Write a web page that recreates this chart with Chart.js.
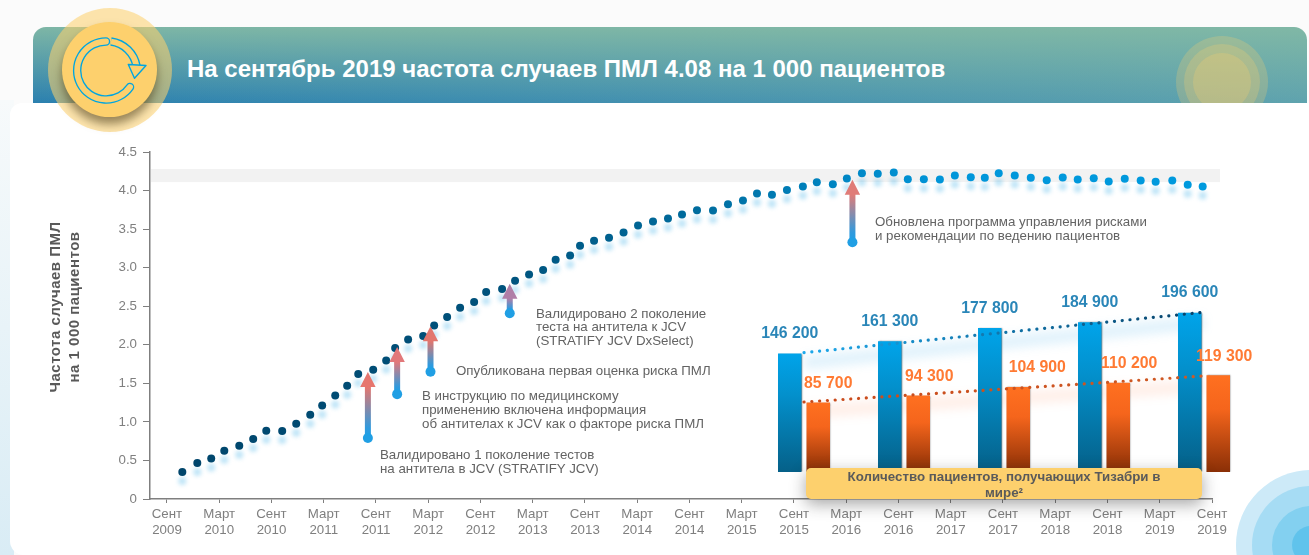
<!DOCTYPE html>
<html lang="ru">
<head>
<meta charset="utf-8">
<title>Частота случаев ПМЛ</title>
<script src="https://cdn.jsdelivr.net/npm/chart.js@4"></script>
<style>
html,body{margin:0;padding:0;width:1309px;height:555px;overflow:hidden;background:#fbfbfb;font-family:"Liberation Sans",Arial,sans-serif}
.abs{position:absolute}
#strip{left:0;top:100px;width:14px;height:455px;background:linear-gradient(to bottom,#f7fafb,#d9ecf5)}
#header{left:33px;top:27px;width:1273.5px;height:76px;border-radius:13px 13px 0 0;overflow:hidden;
background:linear-gradient(to bottom,rgba(130,185,165,.95) 0%,rgba(130,185,165,0) 100%),linear-gradient(to right,#2b80af 0%,#3c8cb0 35%,#5fa3ae 100%)}
.sunr{border-radius:50%;background:rgba(253,208,109,.24)}
#panel{left:10px;top:103px;width:1299px;height:452px;background:#fff;border-radius:12px 0 0 14px}
#corner{left:1200px;top:450px;width:109px;height:105px;overflow:hidden}
.cr{position:absolute;border-radius:50%}
#title{left:187px;top:55px;color:#fff;font-weight:700;font-size:24px;line-height:28px;white-space:nowrap;transform-origin:0 50%;}
#halo{left:47.7px;top:7.7px;width:124px;height:124px;border-radius:50%;background:rgba(253,208,109,.56)}
#sun{left:62px;top:22px;width:95px;height:95px;border-radius:50%;background:#fdd06d;box-shadow:0 7px 10px rgba(70,55,20,.55)}
#icon{left:0;top:0}
canvas{position:absolute;display:block}
#rate{left:0;top:0}
#patients{left:754px;top:280px}
.note{position:absolute;color:#636363;font-size:13.3px;line-height:13.8px;white-space:nowrap}
#ytitle{left:46px;top:307px;width:0;height:0}
#ytitle div{position:absolute;transform:translate(-50%,-50%) rotate(-90deg);white-space:nowrap;font-weight:700;font-size:15px;color:#595959;letter-spacing:.5px}
#box{left:806px;top:468px;width:396px;height:30px;padding-top:1px;background:#fdd06d;border-radius:5px;box-shadow:0 5px 16px rgba(40,40,40,.42);color:#5a5a5a;font-weight:700;font-size:13.3px;line-height:15.5px;text-align:center}
</style>
</head>
<body>
<div class="abs" id="strip"></div>
<div class="abs" id="header">
  <div class="abs sunr" style="left:1143px;top:9px;width:92px;height:92px"></div>
  <div class="abs sunr" style="left:1151px;top:17px;width:76px;height:76px"></div>
  <div class="abs sunr" style="left:1160px;top:26px;width:58px;height:58px"></div>
</div>
<div class="abs" id="panel"></div>
<div class="abs" id="corner">
  <div class="cr" style="left:36px;top:20px;width:150px;height:150px;background:#cdeaf8"></div>
  <div class="cr" style="left:52px;top:36px;width:118px;height:118px;background:#a6dcf4"></div>
  <div class="cr" style="left:72px;top:56px;width:78px;height:78px;background:#83d0f0"></div>
  <div class="cr" style="left:92px;top:76px;width:38px;height:38px;background:#60c3ec"></div>
</div>
<div class="abs" id="title">На сентябрь 2019 частота случаев ПМЛ 4.08 на 1 000 пациентов</div>
<canvas id="rate" width="1309" height="555"></canvas>
<canvas id="patients" width="510" height="192"></canvas>
<div class="abs" id="halo"></div>
<div class="abs" id="sun"></div>
<svg class="abs" id="icon" width="180" height="135" fill="none" stroke-linecap="round" stroke-linejoin="round">
  <path d="M130 87A29 29 0 1 1 106 41.5" stroke="#00a5e0" stroke-width="8.5"/>
  <path d="M130 87A29 29 0 1 1 106 41.5" stroke="#fdd06d" stroke-width="5.8"/>
  <path d="M111 41.5A30 30 0 0 1 136.5 66" stroke="#00a5e0" stroke-width="8.5" stroke-linecap="butt"/>
  <path d="M111 41.5A30 30 0 0 1 136.5 66" stroke="#fdd06d" stroke-width="5.8" stroke-linecap="butt"/>
  <path d="M128.3 64.5L146 65.5L134.5 78.3Z" stroke="#00a5e0" stroke-width="1.4" fill="#fdd06d"/>
</svg>
<div class="abs" id="ytitle"><div style="left:7.5px;top:0">Частота случаев ПМЛ</div><div style="left:27px;top:0">на 1 000 пациентов</div></div>
<div class="note" style="left:380px;top:448px">Валидировано 1 поколение тестов<br>на антитела в JCV (STRATIFY JCV)</div>
<div class="note" style="left:422px;top:389px">В инструкцию по медицинскому<br>применению включена информация<br>об антителах к JCV как о факторе риска ПМЛ</div>
<div class="note" style="left:456px;top:364px">Опубликована первая оценка риска ПМЛ</div>
<div class="note" style="left:536px;top:306.5px">Валидировано 2 поколение<br>теста на антитела к JCV<br>(STRATIFY JCV DxSelect)</div>
<div class="note" style="left:875px;top:215px">Обновлена программа управления рисками<br>и рекомендации по ведению пациентов</div>
<div class="abs" id="box">Количество пациентов, получающих Тизабри в<br>мире²</div>

<script>
/* months since September 2009 for every point of the rate series */
const monthsSinceStart = [1.76,3.48,5.08,6.58,8.30,9.90,11.40,13.23,14.84,16.45,17.82,19.32,20.69,21.96,23.68,25.17,26.20,27.69,29.42,30.68,32.17,33.66,35.27,36.65,38.48,39.97,41.58,43.19,44.63,46.29,47.43,49.04,50.76,52.43,54.09,55.81,57.53,59.14,60.86,62.70,64.42,66.14,67.75,69.47,71.19,73.02,74.62,76.46,78.07,79.80,81.62,83.46,85.07,86.91,88.75,90.47,92.30,93.91,95.51,97.35,99.19,101.02,102.86,104.58,106.42,108.14,109.98,111.81,113.53,115.44,117.21,118.93];
const pmlRate = [0.35,0.467,0.526,0.626,0.691,0.778,0.885,0.881,0.976,1.093,1.213,1.343,1.469,1.62,1.676,1.797,1.957,2.069,2.113,2.25,2.359,2.48,2.554,2.683,2.722,2.83,2.912,2.969,3.102,3.158,3.284,3.348,3.387,3.456,3.547,3.599,3.638,3.689,3.746,3.741,3.824,3.871,3.962,3.945,4.006,4.052,4.109,4.083,4.156,4.226,4.217,4.234,4.148,4.148,4.143,4.195,4.174,4.165,4.226,4.195,4.165,4.135,4.169,4.143,4.161,4.117,4.152,4.13,4.113,4.13,4.074,4.052];
const xTickLabels = [['Сент','2009'],['Март','2010'],['Сент','2010'],['Март','2011'],['Сент','2011'],['Март','2012'],['Сент','2012'],['Март','2013'],['Сент','2013'],['Март','2014'],['Сент','2014'],['Март','2015'],['Сент','2015'],['Март','2016'],['Сент','2016'],['Март','2017'],['Сент','2017'],['Март','2018'],['Сент','2018'],['Март','2019'],['Сент','2019']];
const yTickValues = [0,0.5,1,1.5,2,2.5,3,3.5,4,4.5];
const bandRange = [4.11,4.28];
/* arrows: [month, rate at dot, rate at tip] */
const arrowMonths = [23.07,26.43,30.26,39.36,78.71];
const arrowFrom = [0.79,1.36,1.65,2.41,3.33];
const arrowTo = [1.646,1.97,2.24,2.79,4.14];
const arrowTipColor = ['#e6766e','#e2787a','#e2766e','#b07fa8','#e07c78'];

const barCategories = ['Сент 2015','Сент 2016','Сент 2017','Сент 2018','Сент 2019'];
const treatedTotal = [146200,161300,177800,184900,196600];
const treatedSecond = [85700,94300,104900,110200,119300];
const trendTotal = [147300,null,null,null,197200];
const trendSecond = [86400,null,null,null,118500];
const labelShiftSecond = [10,11,19,11,6];

const FONT = '"Liberation Sans", Arial, sans-serif';
const GREY = '#7f7f7f';

const ratePlugin = {
  id: 'rateDecor',
  beforeDatasetsDraw(chart) {
    const {ctx, scales:{x, y}} = chart;
    ctx.save();
    ctx.fillStyle = '#f2f2f2';
    const top = y.getPixelForValue(bandRange[1]), bot = y.getPixelForValue(bandRange[0]);
    ctx.fillRect(151, top, 1069, bot - top);
    ctx.filter = 'blur(2px)';
    ctx.fillStyle = 'rgba(0,150,225,.26)';
    chart.getDatasetMeta(0).data.forEach(p => {
      ctx.beginPath(); ctx.arc(p.x, p.y + 9, 4, 0, Math.PI * 2); ctx.fill();
    });
    ctx.restore();
  },
  afterDatasetsDraw(chart) {
    const {ctx, scales:{x, y}} = chart;
    ctx.save();
    arrowMonths.forEach((m, i) => {
      const px = x.getPixelForValue(m), y0 = y.getPixelForValue(arrowFrom[i]), y1 = y.getPixelForValue(arrowTo[i]);
      const head = 15, half = 7.7, w = 3;
      const g = ctx.createLinearGradient(0, y0, 0, y1);
      g.addColorStop(0, '#1f9fe3');
      g.addColorStop(.15, '#2f9ade');
      g.addColorStop(Math.max(.3, 1 - head / (y0 - y1)), arrowTipColor[i]);
      g.addColorStop(1, arrowTipColor[i]);
      ctx.fillStyle = g;
      ctx.beginPath();
      ctx.moveTo(px, y1); ctx.lineTo(px + half, y1 + head); ctx.lineTo(px + w, y1 + head);
      ctx.lineTo(px + w, y0); ctx.lineTo(px - w, y0); ctx.lineTo(px - w, y1 + head);
      ctx.lineTo(px - half, y1 + head); ctx.closePath(); ctx.fill();
      ctx.fillStyle = '#209fe4';
      ctx.beginPath(); ctx.arc(px, y0, 5, 0, Math.PI * 2); ctx.fill();
    });
    ctx.restore();
  }
};

let dotGrad = null;
function dotColor(c) {
  const a = c.chart.chartArea;
  if (!a) return '#006a96';
  if (!dotGrad) {
    dotGrad = c.chart.ctx.createLinearGradient(180, 0, 1205, 0);
    dotGrad.addColorStop(0, '#00456b');
    dotGrad.addColorStop(.31, '#00527c');
    dotGrad.addColorStop(.51, '#006d9f');
    dotGrad.addColorStop(.65, '#0087c5');
    dotGrad.addColorStop(.75, '#0096da');
    dotGrad.addColorStop(1, '#009ade');
  }
  return dotGrad;
}

new Chart(document.getElementById('rate'), {
  type: 'scatter',
  data: { datasets: [{
    label: 'Частота случаев ПМЛ на 1 000 пациентов',
    data: monthsSinceStart.map((m, i) => ({x: m, y: pmlRate[i]})),
    showLine: false, pointRadius: 4, pointBorderWidth: 0,
    pointBackgroundColor: dotColor
  }]},
  options: {
    responsive: false, animation: false, devicePixelRatio: 1,
    layout: { padding: {left: 0, right: 97, top: 152, bottom: 0} },
    plugins: { legend: {display: false}, tooltip: {enabled: false} },
    scales: {
      x: {
        type: 'linear', min: -1.95, max: 120,
        afterBuildTicks: s => { s.ticks = xTickLabels.map((_, i) => ({value: i * 6})); },
        afterFit: s => { s.height = 56; },
        grid: {drawOnChartArea: false, tickLength: 4, color: GREY, lineWidth: 1},
        border: {color: GREY, width: 1.5},
        ticks: {
          autoSkip: false, maxRotation: 0, minRotation: 0, padding: 3, color: GREY,
          font: {family: FONT, size: 13.3, lineHeight: 1.2},
          callback: (v) => xTickLabels[Math.round(v / 6)]
        }
      },
      y: {
        type: 'linear', min: 0, max: 4.5,
        afterBuildTicks: s => { s.ticks = yTickValues.map(v => ({value: v})); },
        afterFit: s => { s.width = 150; },
        grid: {drawOnChartArea: false, tickLength: 7, color: GREY, lineWidth: 1},
        border: {color: GREY, width: 1.5},
        ticks: {
          padding: 6, color: GREY, font: {family: FONT, size: 13.3},
          callback: v => v === 0 ? '0' : v.toFixed(1)
        }
      }
    }
  },
  plugins: [ratePlugin]
});

const fmt = v => String(v).replace(/(\d)(?=(\d{3})$)/, '$1 ');

function barGrad(c, topColor, midColor, botColor) {
  const {chart, raw} = c;
  const s = chart.scales.y;
  if (!s || s.top === undefined || raw == null) return topColor;
  const g = chart.ctx.createLinearGradient(0, s.getPixelForValue(raw), 0, s.getPixelForValue(0));
  g.addColorStop(0, topColor); g.addColorStop(.35, midColor); g.addColorStop(1, botColor);
  return g;
}
function trendGrad(c, a, b) {
  const ar = c.chart.chartArea;
  if (!ar) return a;
  const g = c.chart.ctx.createLinearGradient(50, 0, 450, 0);
  g.addColorStop(0, a); g.addColorStop(1, b);
  return g;
}

const barPlugin = {
  id: 'barDecor',
  beforeDatasetsDraw(chart) {
    const {ctx} = chart;
    ctx.save();
    ctx.filter = 'blur(5px)';
    [[2, 'rgba(40,160,230,.13)'], [3, 'rgba(255,110,50,.10)']].forEach(([i, col]) => {
      const pts = chart.getDatasetMeta(i).data;
      ctx.strokeStyle = col; ctx.lineWidth = 14;
      ctx.beginPath(); ctx.moveTo(pts[0].x, pts[0].y + 10); ctx.lineTo(pts[4].x, pts[4].y + 10); ctx.stroke();
    });
    ctx.restore();
  },
  beforeDatasetDraw(chart, args) {
    if (args.index < 2) {
      chart.ctx.save();
      chart.ctx.shadowColor = 'rgba(0,0,0,.45)';
      chart.ctx.shadowOffsetX = 1; chart.ctx.shadowBlur = 1.5;
    }
  },
  afterDatasetDraw(chart, args) {
    if (args.index < 2) chart.ctx.restore();
  },
  afterDatasetsDraw(chart) {
    const {ctx} = chart;
    ctx.save();
    ctx.font = '700 17px ' + FONT;
    ctx.textAlign = 'center'; ctx.textBaseline = 'middle';
    const put = (t, x, y) => ctx.fillText(t, x, y, ctx.measureText(t).width * .93);
    chart.getDatasetMeta(0).data.forEach((b, i) => {
      ctx.fillStyle = '#2a86b8';
      put(fmt(treatedTotal[i]), b.x, b.y - 20);
    });
    chart.getDatasetMeta(1).data.forEach((b, i) => {
      ctx.fillStyle = '#ff7a33';
      put(fmt(treatedSecond[i]), b.x + labelShiftSecond[i], b.y - 19.5);
    });
    ctx.restore();
  }
};

new Chart(document.getElementById('patients'), {
  type: 'bar',
  data: {
    labels: barCategories,
    datasets: [
      {label: 'Все пациенты', data: treatedTotal, order: 2, categoryPercentage: .57, barPercentage: .825,
       backgroundColor: c => barGrad(c, '#00a4ea', '#0390cc', '#056088')},
      {label: 'Пациенты (вторая серия)', data: treatedSecond, order: 2, categoryPercentage: .57, barPercentage: .825,
       backgroundColor: c => barGrad(c, '#ff7020', '#f5651c', '#8a2f06')},
      {type: 'line', label: 'Тренд 1', data: trendTotal, spanGaps: true, order: 1, pointRadius: 0, borderWidth: 3.2,
       borderCapStyle: 'round', borderDash: [0.1, 7.7],
       borderColor: c => trendGrad(c, '#1ea9ec', '#063f66')},
      {type: 'line', label: 'Тренд 2', data: trendSecond, spanGaps: true, order: 1, pointRadius: 0, borderWidth: 3.2,
       borderCapStyle: 'round', borderDash: [0.1, 7.7],
       borderColor: c => trendGrad(c, '#c9491a', '#cf5a24')}
    ]
  },
  options: {
    responsive: false, animation: false, devicePixelRatio: 1,
    layout: {padding: {left: 0, right: 10, top: 0, bottom: 0}},
    plugins: {legend: {display: false}, tooltip: {enabled: false}},
    scales: {
      x: {type: 'category', display: false, offset: true},
      y: {type: 'linear', display: false, min: 0, max: 237037}
    }
  },
  plugins: [barPlugin]
});
</script>
</body>
</html>
